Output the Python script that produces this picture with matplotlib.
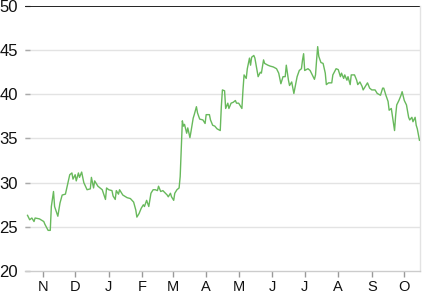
import matplotlib
matplotlib.use("Agg")
import matplotlib.pyplot as plt
import matplotlib.dates as mdates
import pandas as pd

dates = [
    "2012-10-18", "2012-10-20", "2012-10-22", "2012-10-24", "2012-10-25", "2012-10-29",
    "2012-11-02", "2012-11-03", "2012-11-06", "2012-11-08", "2012-11-09", "2012-11-11",
    "2012-11-12", "2012-11-15", "2012-11-17", "2012-11-19", "2012-11-22", "2012-11-24",
    "2012-11-26", "2012-11-28", "2012-11-29", "2012-12-01", "2012-12-02", "2012-12-04",
    "2012-12-05", "2012-12-07", "2012-12-09", "2012-12-12", "2012-12-15", "2012-12-16",
    "2012-12-18", "2012-12-19", "2012-12-22", "2012-12-24", "2012-12-26", "2012-12-29",
    "2012-12-30", "2013-01-01", "2013-01-04", "2013-01-05", "2013-01-07", "2013-01-08",
    "2013-01-10", "2013-01-11", "2013-01-14", "2013-01-18", "2013-01-21", "2013-01-24",
    "2013-01-26", "2013-01-27", "2013-01-29", "2013-01-31", "2013-02-02", "2013-02-03",
    "2013-02-05", "2013-02-07", "2013-02-09", "2013-02-11", "2013-02-13", "2013-02-15",
    "2013-02-16", "2013-02-18", "2013-02-20", "2013-02-24", "2013-02-25", "2013-02-27",
    "2013-02-28", "2013-03-02", "2013-03-03", "2013-03-05", "2013-03-07", "2013-03-08",
    "2013-03-09", "2013-03-10", "2013-03-11", "2013-03-12", "2013-03-14", "2013-03-15",
    "2013-03-17", "2013-03-18", "2013-03-20", "2013-03-21", "2013-03-23", "2013-03-24",
    "2013-03-26", "2013-03-29", "2013-03-31", "2013-04-01", "2013-04-04", "2013-04-05",
    "2013-04-07", "2013-04-09", "2013-04-11", "2013-04-14", "2013-04-15", "2013-04-16",
    "2013-04-18", "2013-04-19", "2013-04-21", "2013-04-22", "2013-04-24", "2013-04-26",
    "2013-04-28", "2013-04-29", "2013-05-01", "2013-05-04", "2013-05-05", "2013-05-06",
    "2013-05-08", "2013-05-09", "2013-05-11", "2013-05-12", "2013-05-13", "2013-05-15",
    "2013-05-16", "2013-05-18", "2013-05-19", "2013-05-21", "2013-05-22", "2013-05-24",
    "2013-05-25", "2013-05-28", "2013-05-30", "2013-06-02", "2013-06-05", "2013-06-07",
    "2013-06-09", "2013-06-11", "2013-06-13", "2013-06-14", "2013-06-16", "2013-06-17",
    "2013-06-19", "2013-06-21", "2013-06-24", "2013-06-26", "2013-06-28", "2013-06-29",
    "2013-06-30", "2013-07-01", "2013-07-04", "2013-07-06", "2013-07-08", "2013-07-10",
    "2013-07-11", "2013-07-12", "2013-07-13", "2013-07-14", "2013-07-16", "2013-07-18",
    "2013-07-20", "2013-07-21", "2013-07-23", "2013-07-26", "2013-07-27", "2013-07-30",
    "2013-08-01", "2013-08-03", "2013-08-04", "2013-08-06", "2013-08-07", "2013-08-09",
    "2013-08-10", "2013-08-12", "2013-08-13", "2013-08-16", "2013-08-18", "2013-08-19",
    "2013-08-21", "2013-08-23", "2013-08-24", "2013-08-26", "2013-08-28", "2013-08-30",
    "2013-09-01", "2013-09-04", "2013-09-06", "2013-09-09", "2013-09-11", "2013-09-12",
    "2013-09-14", "2013-09-16", "2013-09-17", "2013-09-19", "2013-09-21", "2013-09-22",
    "2013-09-23", "2013-09-24", "2013-09-26", "2013-09-28", "2013-09-29", "2013-10-01",
    "2013-10-03", "2013-10-05", "2013-10-06", "2013-10-08", "2013-10-09", "2013-10-11",
    "2013-10-12", "2013-10-13", "2013-10-15",
]

values = [
    26.3, 25.8, 26.0, 25.6, 26.0, 25.9,
    25.6, 25.3, 24.6, 24.6, 27.3, 29.0,
    27.3, 26.2, 27.7, 28.6, 28.7, 29.8,
    30.9, 31.1, 30.4, 30.9, 30.2, 31.1,
    30.6, 31.2, 30.0, 29.2, 29.3, 30.6,
    29.4, 30.2, 29.6, 29.4, 29.2, 28.1,
    29.4, 29.2, 29.1, 28.5, 28.1, 29.1,
    28.7, 29.2, 28.6, 28.3, 28.2, 27.8,
    26.9, 26.1, 26.5, 27.1, 27.5, 27.3,
    28.0, 27.3, 28.8, 29.2, 29.2, 29.1,
    29.6, 29.0, 29.1, 28.6, 28.4, 28.8,
    28.4, 28.0, 28.8, 29.2, 29.4, 30.7,
    33.7, 37.0, 36.4, 36.6, 35.6, 36.2,
    35.1, 35.8, 37.3, 37.7, 38.6, 37.9,
    37.2, 37.1, 36.7, 37.7, 37.7, 37.1,
    36.5, 36.4, 36.1, 35.9, 38.6, 40.5,
    40.4, 38.4, 39.0, 38.4, 39.0, 39.1,
    39.3, 39.0, 39.0, 38.4, 40.5, 42.2,
    41.8, 42.9, 44.1, 43.3, 44.2, 44.4,
    44.1, 42.7, 42.0, 42.5, 42.4, 43.9,
    43.5, 43.3, 43.2, 43.1, 42.9, 42.4,
    41.2, 42.0, 42.0, 43.3, 41.6, 41.0,
    41.4, 40.1, 42.0, 42.7, 42.9, 43.9,
    44.6, 42.7, 42.9, 42.7, 42.2, 41.7,
    42.2, 43.9, 45.4, 44.3, 43.6, 43.5,
    42.4, 41.1, 41.3, 41.3, 42.2, 42.9,
    42.8, 42.0, 42.4, 41.8, 42.2, 41.6,
    42.0, 41.1, 42.2, 42.2, 41.6, 41.1,
    41.4, 40.9, 40.5, 40.9, 41.3, 40.7,
    40.5, 40.5, 40.1, 39.9, 40.7, 40.7,
    39.9, 39.2, 38.2, 38.4, 36.7, 35.9,
    37.6, 38.8, 39.3, 39.9, 40.3, 39.3,
    38.8, 37.4, 37.1, 37.4, 36.9, 37.4,
    36.5, 36.1, 34.8,
]

y_ticks = [20, 25, 30, 35, 40, 45, 50]
month_labels = ["N", "D", "J", "F", "M", "A", "M", "J", "J", "A", "S", "O"]
month_starts = pd.date_range("2012-11-01", periods=12, freq="MS")
x_range = ["2012-10-15 16:00", "2013-10-15 12:00"]

plt.rcParams["font.family"] = ["Liberation Sans", "DejaVu Sans"]

fig = plt.figure(figsize=(4.33, 2.94), dpi=100)
ax = fig.add_axes([25 / 433, 1 - 271 / 294, 395 / 433, 265 / 294])

x = pd.to_datetime(dates)
ax.plot(x, values, color="#68b95c", lw=1.0, zorder=3)

ax.set_xlim(pd.Timestamp(x_range[0]), pd.Timestamp(x_range[1]))
ax.set_ylim(20, 50)
ax.set_yticks(y_ticks)
ax.set_yticklabels([str(t) for t in y_ticks])
for t in y_ticks[1:-1]:
    ax.axhline(t, color="#e3e3e3", lw=1.0, zorder=1)
ax.axhline(50, color="#111111", lw=1.3, zorder=2)

ax.set_xticks(month_starts)
ax.set_xticklabels(month_labels)

for s in ["left", "top"]:
    ax.spines[s].set_visible(False)
ax.spines["bottom"].set_color("#cccccc")
ax.spines["bottom"].set_linewidth(1.0)
ax.spines["right"].set_color("#e3e3e3")
ax.spines["right"].set_linewidth(1.0)

ax.tick_params(axis="y", direction="in", length=3.5, width=1.0, color="#aaaaaa",
               labelsize=12, labelcolor="#111111", pad=5)
ax.tick_params(axis="x", direction="out", length=4, width=1.0, color="#999999",
               labelsize=10.5, labelcolor="#111111", pad=2.5)

fig.savefig("out.png", dpi=100)
